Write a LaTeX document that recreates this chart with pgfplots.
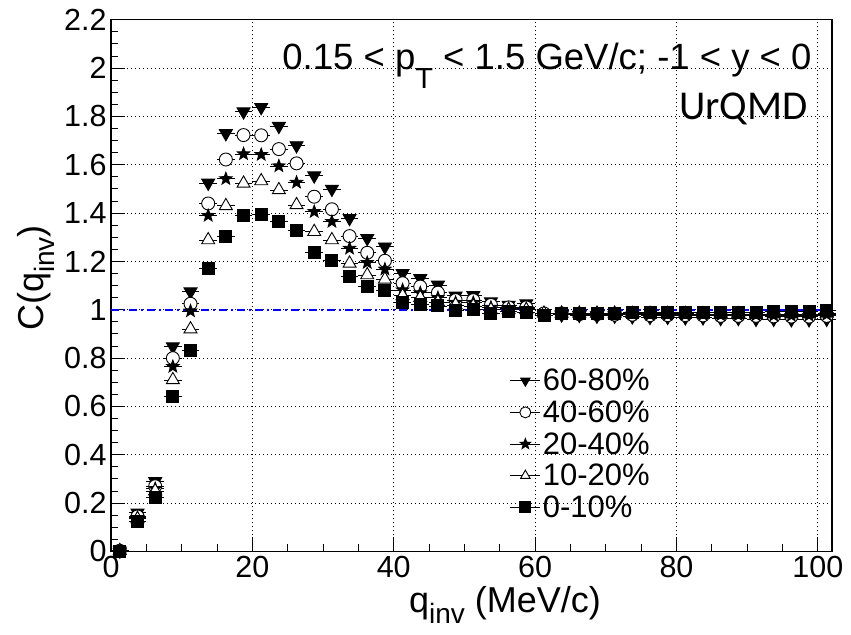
\documentclass[border=0pt]{standalone}
\usepackage{pgfplots}
\pgfplotsset{compat=1.18}
\usepackage{pgfplotstable}
\usepackage{fontspec}
\setmainfont{Liberation Sans}
\newfontfamily\calib{Carlito}
\usetikzlibrary{plotmarks}

\pgfdeclareplotmark{fstar}{%
  \pgfpathmoveto{\pgfpointpolar{90}{\pgfplotmarksize}}%
  \pgfpathlineto{\pgfpointpolar{126}{0.42\pgfplotmarksize}}%
  \pgfpathlineto{\pgfpointpolar{162}{\pgfplotmarksize}}%
  \pgfpathlineto{\pgfpointpolar{198}{0.42\pgfplotmarksize}}%
  \pgfpathlineto{\pgfpointpolar{234}{\pgfplotmarksize}}%
  \pgfpathlineto{\pgfpointpolar{270}{0.42\pgfplotmarksize}}%
  \pgfpathlineto{\pgfpointpolar{306}{\pgfplotmarksize}}%
  \pgfpathlineto{\pgfpointpolar{342}{0.42\pgfplotmarksize}}%
  \pgfpathlineto{\pgfpointpolar{18}{\pgfplotmarksize}}%
  \pgfpathlineto{\pgfpointpolar{54}{0.42\pgfplotmarksize}}%
  \pgfpathclose
  \pgfusepathqfillstroke
}

% x  a=60-80  b=40-60  c=20-40  d=10-20  e=0-10
\pgfplotstableread{
x      a      b      c      d      e
1.25   0.003  0.003  0.003  0.003  0.002
3.75   0.160  0.145  0.140  0.135  0.125
6.25   0.290  0.270  0.260  0.250  0.222
8.75   0.848  0.800  0.765  0.710  0.640
11.25  1.075  1.025  0.995  0.920  0.831
13.75  1.525  1.440  1.390  1.289  1.172
16.25  1.730  1.622  1.542  1.430  1.302
18.75  1.820  1.723  1.645  1.523  1.390
21.25  1.838  1.722  1.642  1.533  1.396
23.75  1.760  1.665  1.595  1.496  1.367
26.25  1.680  1.606  1.527  1.434  1.330
28.75  1.555  1.468  1.406  1.323  1.236
31.25  1.500  1.416  1.365  1.289  1.206
33.75  1.379  1.305  1.254  1.192  1.137
36.25  1.296  1.236  1.195  1.144  1.098
38.75  1.261  1.203  1.168  1.126  1.079
41.25  1.151  1.110  1.082  1.058  1.029
43.75  1.130  1.096  1.070  1.050  1.023
46.25  1.103  1.071  1.050  1.032  1.016
48.75  1.058  1.040  1.030  1.020  0.999
51.25  1.060  1.040  1.030  1.015  1.000
53.75  1.034  1.020  1.010  1.000  0.987
56.25  1.020  1.010  1.005  1.000  0.992
58.75  1.026  1.010  1.005  1.000  0.990
61.25  0.985  0.985  0.985  0.985  0.978
63.75  0.980  0.985  0.985  0.985  0.985
66.25  0.978  0.982  0.985  0.985  0.985
68.75  0.975  0.982  0.983  0.985  0.987
71.25  0.975  0.980  0.982  0.985  0.986
73.75  0.972  0.980  0.982  0.984  0.988
76.25  0.970  0.978  0.980  0.984  0.988
78.75  0.970  0.978  0.980  0.984  0.990
81.25  0.968  0.978  0.980  0.984  0.990
83.75  0.968  0.977  0.980  0.983  0.990
86.25  0.965  0.975  0.978  0.982  0.990
88.75  0.965  0.975  0.978  0.983  0.990
91.25  0.962  0.975  0.978  0.982  0.990
93.75  0.962  0.973  0.977  0.982  0.992
96.25  0.960  0.972  0.976  0.982  0.993
98.75  0.960  0.972  0.977  0.982  0.993
101.25 0.962  0.975  0.980  0.985  0.998
}\datatable

\begin{document}
\begin{tikzpicture}
\begin{axis}[
  scale only axis,
  width=721bp, height=531.7bp,
  at={(111bp,83.5bp)}, anchor=south west,
  xmin=0, xmax=102, ymin=0, ymax=2.2,
  xtick={0,20,40,60,80,100},
  xticklabels={0,20,40,60,80,100},
  ytick={0,0.2,0.4,0.6,0.8,1,1.2,1.4,1.6,1.8,2,2.2},
  yticklabels={0,0.2,0.4,0.6,0.8,1,1.2,1.4,1.6,1.8,2,2.2},
  minor x tick num=3, minor y tick num=3,
  tick align=inside,
  xtick pos=bottom, ytick pos=left,
  major tick length=14bp, minor tick length=7bp,
  tick style={black, line width=1bp},
  grid=major,
  major grid style={black, line width=0.9bp, dash pattern=on 1bp off 3bp},
  axis line style={line width=1.3bp},
  tick label style={font=\fontsize{30.5bp}{30.5bp}\selectfont},
  xticklabel style={yshift=-1bp},
  yticklabel style={xshift=-1bp},
  /pgf/number format/assume math mode=true,
  clip=false,
  legend style={draw=none, fill=none,
    at={(axis description cs:0.553,0.347)}, anchor=north west,
    font=\fontsize{31bp}{33bp}\selectfont,
    row sep=4.5bp, inner sep=0bp},
  legend cell align=left,
  legend image code/.code={%
    \draw[black,line width=0.9bp] (0bp,0bp) -- (30bp,0bp);
    \draw[#1,mark size=5.5bp] plot coordinates {(15bp,0bp)};},
  every axis plot/.append style={line width=0.9bp},
]
\addplot[only marks, black, mark=triangle*, mark size=7.5bp, mark options={rotate=180, fill=black},
  error bars/.cd, x dir=both, x fixed=1.25, error mark=none,
  error bar style={line width=0.8bp}] table[x=x,y=a] {\datatable};
\addlegendentry{60-80\%}
\addplot[only marks, black, mark=*, mark size=6.5bp, mark options={fill=white},
  error bars/.cd, x dir=both, x fixed=1.25, error mark=none,
  error bar style={line width=0.8bp}] table[x=x,y=b] {\datatable};
\addlegendentry{40-60\%}
\addplot[only marks, black, mark=fstar, mark size=6.5bp, mark options={fill=black},
  error bars/.cd, x dir=both, x fixed=1.25, error mark=none,
  error bar style={line width=0.8bp}] table[x=x,y=c] {\datatable};
\addlegendentry{20-40\%}
\addplot[only marks, black, mark=triangle*, mark size=7.5bp, mark options={fill=white},
  error bars/.cd, x dir=both, x fixed=1.25, error mark=none,
  error bar style={line width=0.8bp}] table[x=x,y=d] {\datatable};
\addlegendentry{10-20\%}
\addplot[only marks, black, mark=square*, mark size=6bp, mark options={fill=black},
  error bars/.cd, x dir=both, x fixed=1.25, error mark=none,
  error bar style={line width=0.8bp}] table[x=x,y=e] {\datatable};
\addlegendentry{0-10\%}
\addplot[forget plot, blue, line width=2.4bp, dash pattern=on 8bp off 4bp on 2bp off 4bp] coordinates {(0,1) (102,1)};
\end{axis}
\node[anchor=base east, font=\fontsize{36.5bp}{36.5bp}\selectfont] at (815bp,565bp)
  {0.15 < p\raisebox{-19bp}{\fontsize{29bp}{29bp}\selectfont T} < 1.5 GeV/c; -1 < y < 0};
\node[anchor=base east, font=\calib\fontsize{41bp}{41bp}\selectfont] at (811bp,515bp) {UrQMD};
\node[rotate=90, anchor=base, font=\fontsize{36bp}{36bp}\selectfont] at (43bp,357bp)
  {C(q\raisebox{-11bp}{\fontsize{28bp}{28bp}\selectfont inv})};
\node[anchor=base, font=\fontsize{36bp}{36bp}\selectfont] at (505bp,23bp)
  {q\raisebox{-11bp}{\fontsize{28bp}{28bp}\selectfont inv} (MeV/c)};
\pgfresetboundingbox
\path[use as bounding box] (0,0) rectangle (851bp,635bp);
\end{tikzpicture}
\end{document}
